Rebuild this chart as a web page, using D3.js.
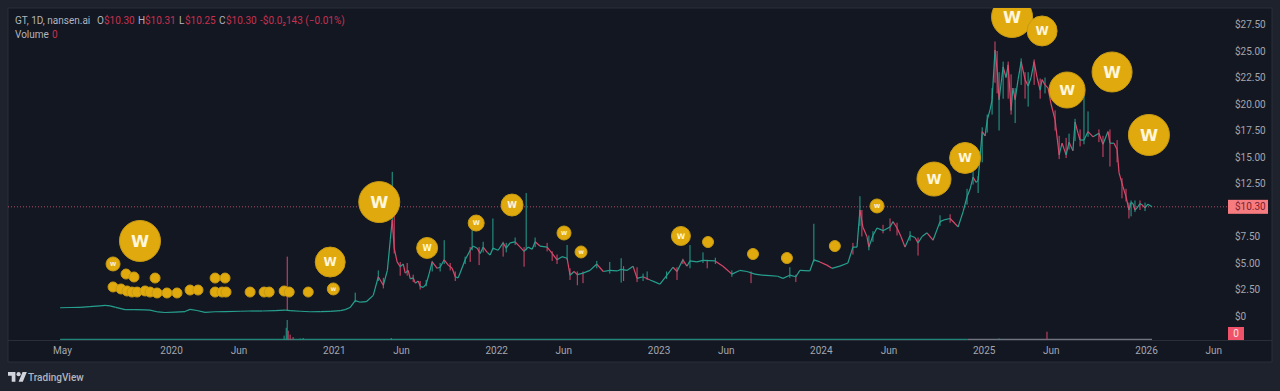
<!DOCTYPE html>
<html>
<head>
<meta charset="utf-8">
<script src="https://cdn.jsdelivr.net/npm/d3@7"></script>
<style>
  html, body { margin: 0; padding: 0; background: #1e222d; overflow: hidden; }
  svg { display: block; font-family: "Roboto", sans-serif; }
</style>
</head>
<body>
<svg id="chart" width="1280" height="391"></svg>
<script>
  /* Data: time is a decimal year, prices are dollars */

  let candleYears = [
    2019.317,2019.378,2019.44,2019.5,2019.563,2019.594,2019.625,2019.66,2019.717,2019.778,2019.84,2019.871,2019.92,2019.963,
    2020.025,2020.086,2020.117,2020.16,2020.209,2020.27,2020.332,2020.425,2020.486,2020.56,2020.64,2020.702,2020.732,2020.794,2020.855,2020.917,2020.978,
    2021.04,2021.07,2021.1,2021.132,2021.163,2021.2,2021.243,2021.274,2021.305,2021.33,2021.348,2021.36,2021.372,2021.39,2021.409,2021.428,2021.44,2021.458,2021.471,2021.489,
    2021.502,2021.52,2021.532,2021.551,2021.569,2021.582,2021.606,2021.637,2021.655,2021.68,2021.705,2021.729,2021.748,2021.766,2021.778,2021.809,2021.84,2021.858,2021.883,2021.902,2021.92,2021.945,2021.963,2021.98,
    2022.012,2022.043,2022.062,2022.086,2022.117,2022.148,2022.172,2022.197,2022.222,2022.24,2022.27,2022.314,2022.345,2022.375,2022.406,2022.437,2022.455,2022.48,2022.5,2022.535,2022.578,2022.62,2022.66,2022.7,2022.745,2022.77,2022.806,2022.843,2022.868,2022.905,2022.948,2022.98,
    2023.009,2023.052,2023.089,2023.114,2023.15,2023.175,2023.194,2023.237,2023.274,2023.348,2023.397,2023.452,2023.5,2023.545,2023.594,2023.637,2023.686,2023.735,2023.766,2023.809,2023.846,2023.871,2023.932,2023.957,2023.994,
    2024.037,2024.068,2024.117,2024.166,2024.197,2024.222,2024.24,2024.258,2024.283,2024.295,2024.32,2024.345,2024.382,2024.425,2024.443,2024.468,2024.492,2024.517,2024.548,2024.578,2024.597,2024.622,2024.652,2024.689,2024.732,2024.763,2024.794,2024.825,2024.843,2024.874,2024.898,2024.917,2024.935,2024.954,2024.966,2024.991,
    2025.009,2025.022,2025.04,2025.052,2025.07,2025.083,2025.095,2025.108,2025.12,2025.138,2025.151,2025.169,2025.18,2025.194,2025.212,2025.231,2025.255,2025.274,2025.292,2025.311,2025.329,2025.348,2025.36,2025.378,2025.397,2025.415,2025.44,2025.465,2025.483,2025.508,2025.526,2025.55,2025.563,2025.582,2025.594,2025.618,2025.643,2025.674,2025.71,2025.735,2025.766,2025.778,2025.803,2025.822,2025.834,2025.858,2025.877,2025.895,2025.908,2025.92,2025.932,2025.945,2025.963,2025.975,2025.994,
    2026.012,2026.037
  ]
  let candleCloses = [
    .78,.8,.82,.88,.95,1,.95,.82,.6,.6,.58,.55,.38,.33,
    .36,.42,.62,.52,.34,.4,.42,.45,.47,.47,.5,.55,.5,.45,.4,.42,.43,
    .5,.6,.8,1.45,1.3,1.35,1.95,3.7,2.9,4.3,7.2,9.05,6.4,5.1,4.65,4.9,4.05,4.3,3.5,3.6,
    3.1,3.3,2.8,2.7,3,3.7,5.1,4.5,4.6,5.3,4.8,4.5,3.7,3.6,4.05,5.3,6.2,6.6,6.4,5.9,6.5,6,5.75,6.4,
    6.2,6.9,6.4,6.9,7,6.5,6.1,6.5,6.3,7,6.6,6.5,5.9,5.3,5.6,5.45,3.85,4.2,3.9,4.05,4.3,4.9,4.2,4.3,4.25,4.4,4.3,4.7,3.55,3.7,3.4,3.2,
    3,3.85,4.6,4.2,5.3,4.7,5.2,5.1,5.25,5.2,4.7,3.95,4.3,4.2,3.95,3.85,3.8,3.75,3.55,3.85,3.7,4.3,4.25,5.3,5.1,
    4.8,4.5,4.7,5,6.5,6.5,10,8.4,7.5,6.5,7.6,8.3,8.05,8.4,8.9,8.3,7.5,6.5,7.6,7.4,6.9,7.5,7.85,7.15,8.9,9.1,9.2,8.7,8.4,9.85,11.25,12,13.1,12.6,12.8,17.4,
    17,18.5,19.5,20.4,25.1,23.2,20.4,22,23.5,22.5,23.7,19.4,21.5,20.4,22.3,24,22.3,21.7,22.5,24,22.5,21.3,22.3,21.8,21.5,20,18.5,15.2,16.3,15.2,16.4,15.6,18.3,17.2,16.6,16.6,17.4,16.9,17.25,16.2,17.4,16.3,16.3,15.7,13.5,12.2,11.25,10,10.7,10.6,10,10.2,10.6,10.5,10.2,
    10.55,10.3
  ]

  /* Wicks that stick out of the price line */
  let wickYears = [
    2020.714,2021.132,2021.274,2021.305,2021.36,2021.372,2021.409,2021.452,2021.532,2021.606,
    2021.68,2021.717,2021.84,2021.852,2021.895,2021.98,2022.043,2022.172,2022.185,2022.24,
    2022.345,2022.375,2022.437,2022.455,2022.5,2022.535,2022.7,2022.77,2022.785,2022.868,
    2022.93,2023.114,2023.15,2023.194,2023.274,2023.3,2023.57,2023.809,2023.846,2023.957,
    2024.197,2024.24,2024.252,2024.295,2024.425,2024.597,2024.966,2025.022,2025.07,2025.095,
    2025.169,2025.194,2025.274,2025.311,2025.618,2025.643,2025.735,2025.778,2025.852,2025.895,
    2025.908,2021.489,2021.569,2021.655,2021.748,2021.809,2021.92,2022.062,2022.117,2022.314,
    2022.62,2022.905,2023.05,2023.35,2023.452,2024.32,2024.382,2024.468,2024.548,2024.732,
    2024.794,2024.898,2024.935,2024.991,2025.052,2025.083,2025.12,2025.151,2025.231,2025.255,
    2025.348,2025.378,2025.44,2025.465,2025.508,2025.526,2025.563,2025.594,2025.71,2025.822,
    2025.877,2025.932,2025.963,2025.994
  ]
  let wickHighs = [
    5.6,2.2,4.3,3.6,13.6,9.5,5.1,5,3.3,5.2,
    7.15,5,6.5,8.1,6.5,9.2,7,6.5,11.6,7.4,
    6.1,5.8,6.7,4.5,4.2,4.2,5.1,5.45,4.7,4.6,
    4.2,4.6,5.4,6.7,6,5.3,4.2,4.6,3.9,8.7,
    6.9,11.3,10,7.6,9.2,7.4,13.2,19,25.9,23,
    22.8,21.5,23,24.2,20.85,19.3,17,17.6,13,10.7,
    10.9,3.9,3.4,5,4.2,5.6,7,6.9,7.4,6.9,
    5.2,4,4.2,5.5,4.3,8,8.6,8.8,8,9.5,
    9.6,12,14.5,17.8,21.5,25,24,24,24.3,23,
    22.4,22.5,19.4,17,16.8,17.2,18.6,17.6,17.6,16.6,
    12,10.9,10.9,10.7
  ]
  let wickLows = [
    .5,1.3,3.3,2.6,8.6,5.9,3.8,3.8,2.5,4.2,
    4.9,4.3,5.1,6.2,4.8,6.2,5.6,4.65,6.2,6.5,
    5.2,4.9,5.3,3.4,2.9,3.1,4,3.15,3.3,3.2,
    3.4,3.4,4.9,4.5,5,4.5,3.1,3.6,3.2,5.1,
    5.8,8.5,7.5,6.2,8,5.7,11.6,17.3,22,17.5,
    19,18.2,19.75,21.8,16.2,16.9,15,14.1,11.1,9.2,
    9.4,3.2,2.8,4.2,3.3,4.9,6,6,6.7,6.1,
    4.5,3.3,3.5,4.9,3.7,7,7.8,7.6,7.1,8.5,
    8.8,10.5,12.4,14.5,19,21,20.5,20.5,21.8,20.5,
    20.5,21,17.5,14.8,14.9,15.7,16.5,16,16.4,14.5,
    10.8,9.8,10,9.9
  ]
  let wickUp = [
    0,1,1,0,1,0,0,0,0,1,
    1,0,0,1,0,1,0,0,1,1,
    0,0,1,0,0,0,1,1,0,0,
    1,0,0,1,1,0,0,1,0,1,
    0,1,0,1,0,0,1,1,0,1,
    0,1,1,0,1,1,0,0,0,0,
    1,0,1,1,0,1,1,1,1,0,
    1,1,1,1,1,1,0,0,1,1,
    0,1,1,1,1,0,1,0,1,0,
    0,1,0,0,0,1,1,0,0,0,
    0,1,0,1
  ]

  /* Bubble size is the drawn diameter in pixels, near enough */
  let bubbleYears = [2019.809,2019.643,2019.723,2019.772,2019.902,2019.643,2019.692,2019.729,2019.76,2019.791,2019.84,2019.871,2019.914,2019.975,2020.037,2020.117,2020.166,2020.271,2020.332,2020.271,2020.314,2020.338,2020.486,2020.572,2020.603,2020.695,2020.726,2020.843,2020.997,2020.978,2021.28,2021.575,2021.877,2022.098,2022.418,2022.523,2023.138,2023.305,2023.582,2023.791,2024.086,2024.345,2024.695,2024.886,2025.175,2025.36,2025.514,2025.791,2026.018]
  let bubblePrices = [7.08,4.91,3.96,3.68,3.58,2.74,2.55,2.36,2.26,2.26,2.36,2.26,2.17,2.17,2.17,2.45,2.45,3.58,3.58,2.26,2.26,2.26,2.26,2.26,2.26,2.36,2.26,2.26,2.55,5.09,10.75,6.42,8.77,10.47,7.83,6.04,7.55,6.98,5.85,5.47,6.6,10.38,12.92,14.91,28.21,26.89,21.32,23.02,17.08]
  let bubbleSizes = [41,14,10,10,10,10,10,10,10,10,10,10,10,10,10,10,10,10,10,10,10,10,10,10,10,10,10,10,12,30,41,21,16,22,14,12,19,11,11,11,11,14,34,31,41,30,36,40,41]

  let volumeYears = [2020.695,2020.708,2020.714,2020.72,2020.732,2020.75,2020.794,2020.812,2021.354,2025.095,2025.39]
  let volumeValues = [4,12,20,9,5,2.5,1,1.5,1.5,1,8]
  let volumeUp = [1,1,1,0,0,0,1,1,1,1,0]

  let priceTicks = [0,2.5,5,7.5,10,12.5,15,17.5,20,22.5,25,27.5]
  let priceTickLabels = ["$0","$2.50","$5.00","$7.50","","$12.50","$15.00","$17.50","$20.00","$22.50","$25.00","$27.50"]
  let timeTicks = ["2019-05-01","2020-01-01","2020-06-01","2021-01-01","2021-06-01","2022-01-01","2022-06-01","2023-01-01","2023-06-01","2024-01-01","2024-06-01","2025-01-01","2025-06-01","2026-01-01","2026-06-01"]
  let timeTickLabels = ["May","2020","Jun","2021","Jun","2022","Jun","2023","Jun","2024","Jun","2025","Jun","2026","Jun"]
  let lastPrice = 10.30

  let green = "#26a08f"
  let red = "#d9486a"
  let gold = "#e0aa0e"

  function yearToDate(y){
    let whole = Math.floor(y)
    let start = Date.UTC(whole, 0, 1)
    return new Date(start + (y - whole) * (Date.UTC(whole + 1, 0, 1) - start))
  }

  let svg = d3.select("#chart")

  let x = d3.scaleUtc()
            .domain([new Date(Date.UTC(2020,0,1)), new Date(Date.UTC(2026,0,1))])
            .range([171,1146])
  let y = d3.scaleLinear()
            .domain([0,27.5])
            .range([316,24.5])
  let yVolume = d3.scaleLinear()
                  .domain([0,20])
                  .range([339.5,320])
  let r = d3.scaleLinear()
            .domain([0,41])
            .range([0,20.5])

  /* Panel */
  svg.append("rect").attr("x",8).attr("y",8).attr("width",1264).attr("height",354)
     .attr("fill","#131722").attr("stroke","#2a2e39").attr("stroke-width",1)
  svg.append("line").attr("x1",8).attr("x2",1272).attr("y1",340.5).attr("y2",340.5)
     .attr("stroke","#2a2e39")

  svg.append("clipPath").attr("id","plot")
     .append("rect").attr("x",8).attr("y",8).attr("width",1264).attr("height",332)

  let plot = svg.append("g").attr("clip-path","url(#plot)")

  /* Last price line */
  plot.append("line")
      .attr("x1",8).attr("x2",1228)
      .attr("y1",y(lastPrice)).attr("y2",y(lastPrice))
      .attr("stroke","#e0607a").attr("stroke-opacity",0.75)
      .attr("stroke-dasharray","1 2")

  /* Volume */
  plot.append("line")
      .attr("x1",x(yearToDate(candleYears[0])))
      .attr("x2",x(yearToDate(2024.9)))
      .attr("y1",yVolume(0)).attr("y2",yVolume(0))
      .attr("stroke",green).attr("stroke-opacity",0.8).attr("stroke-width",1.5)
  plot.append("line")
      .attr("x1",x(yearToDate(2024.9)))
      .attr("x2",x(yearToDate(candleYears[candleYears.length - 1])))
      .attr("y1",yVolume(0)).attr("y2",yVolume(0))
      .attr("stroke","#6f7480").attr("stroke-width",1.5)
  plot.selectAll("rect.volume")
      .data(volumeYears)
      .enter()
      .append("rect")
      .attr("class","volume")
      .attr("x",function(d){ return x(yearToDate(d)) - 0.6 })
      .attr("y",function(d,i){ return yVolume(volumeValues[i]) })
      .attr("width",1.2)
      .attr("height",function(d,i){ return yVolume(0) - yVolume(volumeValues[i]) })
      .attr("fill",function(d,i){ return volumeUp[i] ? green : red })
      .attr("fill-opacity",0.8)

  /* Wicks */
  plot.selectAll("line.wick")
      .data(wickYears)
      .enter()
      .append("line")
      .attr("class","wick")
      .attr("x1",function(d){ return x(yearToDate(d)) })
      .attr("x2",function(d){ return x(yearToDate(d)) })
      .attr("y1",function(d,i){ return y(wickHighs[i]) })
      .attr("y2",function(d,i){ return y(wickLows[i]) })
      .attr("stroke",function(d,i){ return wickUp[i] ? green : red })
      .attr("stroke-width",1)

  /* Price moves, each one coloured by its direction */
  plot.selectAll("line.move")
      .data(candleYears.slice(1))
      .enter()
      .append("line")
      .attr("class","move")
      .attr("x1",function(d,i){ return x(yearToDate(candleYears[i])) })
      .attr("x2",function(d){ return x(yearToDate(d)) })
      .attr("y1",function(d,i){ return y(candleCloses[i]) })
      .attr("y2",function(d,i){ return y(candleCloses[i + 1]) })
      .attr("stroke",function(d,i){ return candleCloses[i] - candleCloses[i + 1] > 0.25 ? red : green })
      .attr("stroke-width",1.2)

  /* Wallet bubbles */
  let bubbles = plot.selectAll("g.bubble")
                    .data(bubbleYears)
                    .enter()
                    .append("g")
                    .attr("class","bubble")
                    .attr("transform",function(d,i){ return `translate(${x(yearToDate(d))},${y(bubblePrices[i])})` })
  bubbles.append("circle")
         .attr("r",function(d,i){ return r(bubbleSizes[i]) })
         .attr("fill",gold)
         .attr("stroke","#c79a14")
         .attr("stroke-width",1)
  bubbles.filter(function(d,i){ return bubbleSizes[i] >= 12 })
         .append("text")
         .attr("text-anchor","middle")
         .attr("dy","0.36em")
         .attr("fill","#fff6dc")
         .attr("font-family","'DejaVu Sans', sans-serif")
         .attr("font-weight","bold")
         .attr("font-size",function(d){
             let i = bubbleYears.indexOf(d)
             return bubbleSizes[i] * 0.4
         })
         .text("W")

  /* Axes */
  let xAxis = svg.append("g")
                 .attr("transform","translate(0,340)")
                 .call(d3.axisBottom(x)
                         .tickValues(timeTicks.map(function(d){ return new Date(d) }))
                         .tickSize(0)
                         .tickPadding(7)
                         .tickFormat(function(d,i){ return timeTickLabels[i] }))
  xAxis.select(".domain").remove()
  xAxis.selectAll("text").attr("fill","#a3a6af").attr("font-size",10).attr("font-family","Roboto, sans-serif")

  let yAxis = svg.append("g")
                 .attr("transform","translate(1235,0)")
                 .call(d3.axisRight(y)
                         .tickValues(priceTicks)
                         .tickSize(0)
                         .tickPadding(0)
                         .tickFormat(function(d,i){ return priceTickLabels[i] }))
  yAxis.select(".domain").remove()
  yAxis.selectAll("text").attr("fill","#a3a6af").attr("font-size",10).attr("font-family","Roboto, sans-serif")

  /* Price and volume tags on the scale */
  svg.append("rect").attr("x",1228).attr("y",y(lastPrice) - 7).attr("width",40).attr("height",14)
     .attr("fill","#f77c80")
  svg.append("text").attr("x",1235).attr("y",y(lastPrice)).attr("dy","0.36em")
     .attr("fill","#7c1f2e").attr("font-size",10).text("$" + lastPrice.toFixed(2))
  svg.append("rect").attr("x",1228).attr("y",327).attr("width",16).attr("height",13)
     .attr("fill","#f0526a")
  svg.append("text").attr("x",1236).attr("y",333.5).attr("dy","0.36em").attr("text-anchor","middle")
     .attr("fill","#ffe3e6").attr("font-size",10).text("0")

  /* Legend */
  let legendGrey = "#b2b5be"
  let legendRed = "#c7314f"
  let legend = [
    ["GT, 1D, nansen.ai",15,legendGrey],
    ["O",97,legendGrey],["$10.30",104,legendRed],
    ["H",138,legendGrey],["$10.31",145,legendRed],
    ["L",179,legendGrey],["$10.25",185,legendRed],
    ["C",219,legendGrey],["$10.30",226,legendRed],
    ["-$0.0₂143 (−0.01%)",260,legendRed]
  ]
  svg.selectAll("text.legend")
     .data(legend)
     .enter()
     .append("text")
     .attr("class","legend")
     .attr("x",function(d){ return d[1] })
     .attr("y",24)
     .attr("fill",function(d){ return d[2] })
     .attr("font-size",10)
     .text(function(d){ return d[0] })
  svg.append("text").attr("x",15).attr("y",38).attr("fill",legendGrey).attr("font-size",10).text("Volume")
  svg.append("text").attr("x",52).attr("y",38).attr("fill",legendRed).attr("font-size",10).text("0")

  /* Footer logo */
  let logo = svg.append("g").attr("transform","translate(8,370) scale(0.53)").attr("fill","#d1d4dc")
  logo.append("path").attr("d","M14 22H7V11H0V4h14v18zM28 22h-8l7.5-18h8L28 22z")
  logo.append("circle").attr("cx",20).attr("cy",8).attr("r",4)
  svg.append("text").attr("x",28).attr("y",381).attr("fill","#b2b5be")
     .attr("font-size",10).attr("font-weight",500).text("TradingView")
</script>
</body>
</html>
